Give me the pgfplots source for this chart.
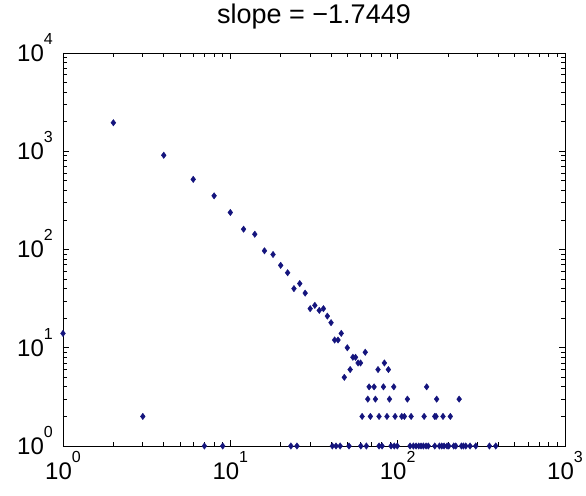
\documentclass[border=0pt]{standalone}
\usepackage{pgfplots}
\pgfplotsset{compat=1.18}
\usepackage{fontspec}
\setmainfont{Liberation Sans}
\definecolor{mk}{RGB}{20,20,125}
\newcommand{\tl}[1]{10\raisebox{17bp}{\fontsize{16bp}{16bp}\selectfont #1}}
\begin{document}
\begin{tikzpicture}
\useasboundingbox (0,0) rectangle (586bp,496bp);
\begin{axis}[
  at={(63bp,50bp)}, anchor=south west,
  scale only axis, width=502bp, height=393bp,
  xmode=log, ymode=log,
  xmin=1, xmax=1000, ymin=1, ymax=10000,
  clip=false,
  axis line style={line width=0.8bp},
  tick style={line width=0.7bp, black},
  tick align=inside,
  major tick length=6bp, minor tick length=4bp,
  xtick={1,10,100,1000},
  xticklabels={\tl{0},\tl{1},\tl{2},\tl{3}},
  ytick={1,10,100,1000,10000},
  yticklabels={\tl{0},\tl{1},\tl{2},\tl{3},\tl{4}},
  minor xtick={2,3,4,5,6,7,8,9,20,30,40,50,60,70,80,90,200,300,400,500,600,700,800,900},
  minor ytick={2,3,4,5,6,7,8,9,20,30,40,50,60,70,80,90,200,300,400,500,600,700,800,900,2000,3000,4000,5000,6000,7000,8000,9000},
  tick label style={font=\fontsize{24bp}{24bp}\selectfont, inner sep=0pt},
  xticklabel style={anchor=north, yshift=-5bp},
  yticklabel style={anchor=base east, xshift=-10bp, yshift=-8.5bp},
  title={slope = −1.7449},
  title style={at={(0.5,1)}, anchor=base, yshift=24bp, inner sep=0pt, font=\fontsize{27bp}{27bp}\selectfont},
]
\addplot[only marks, mark=diamond*, mark size=3.2bp, color=mk] coordinates {
(1,14)(2,1950)(3,2)(4,910)(6,517)(8,352)(10,238)(12,161)(14,143)(16,97)(18,89)(20,69)(22,58)(24,40)(26,45)(28,36)(30,25)(32,27)(34,24)(36,25)(38,21)(40,18)(42,12)(44,12)(46,14)(48,5)(50,10)(52,6)(54,8)(56,8)(58,7)(60,7)(64,9)
(67.5,4)(72.3,4)(82.2,4)(94.8,4)(149,4)
(66.3,3)(73.6,3)(89.3,3)(114.3,3)(171,3)(233,3)
(76.3,6)(88,6)(83.3,7)
(61.3,2)(68.7,2)(77.4,2)(86.3,2)(96.5,2)(105.8,2)(109.7,2)(120.3,2)(143.9,2)(166.6,2)(169.6,2)(186.6,2)(206.4,2)
(7,1)(9,1)(23,1)(25,1)(40.7,1)(42.8,1)(45.3,1)(51.2,1)(60.2,1)(65,1)(77.4,1)(80.7,1)(91.3,1)(95.5,1)(99.5,1)(118.6,1)(124.1,1)(128.8,1)(133.6,1)(137.9,1)(142.4,1)(147.8,1)(152.5,1)(166.6,1)(177.6,1)(183.4,1)(189.4,1)(197.4,1)(201.9,1)(216.3,1)(222.4,1)(240.4,1)(247.1,1)(255.1,1)(270.8,1)(292.9,1)(353.4,1)(385.6,1)
};
\end{axis}
\end{tikzpicture}
\end{document}
